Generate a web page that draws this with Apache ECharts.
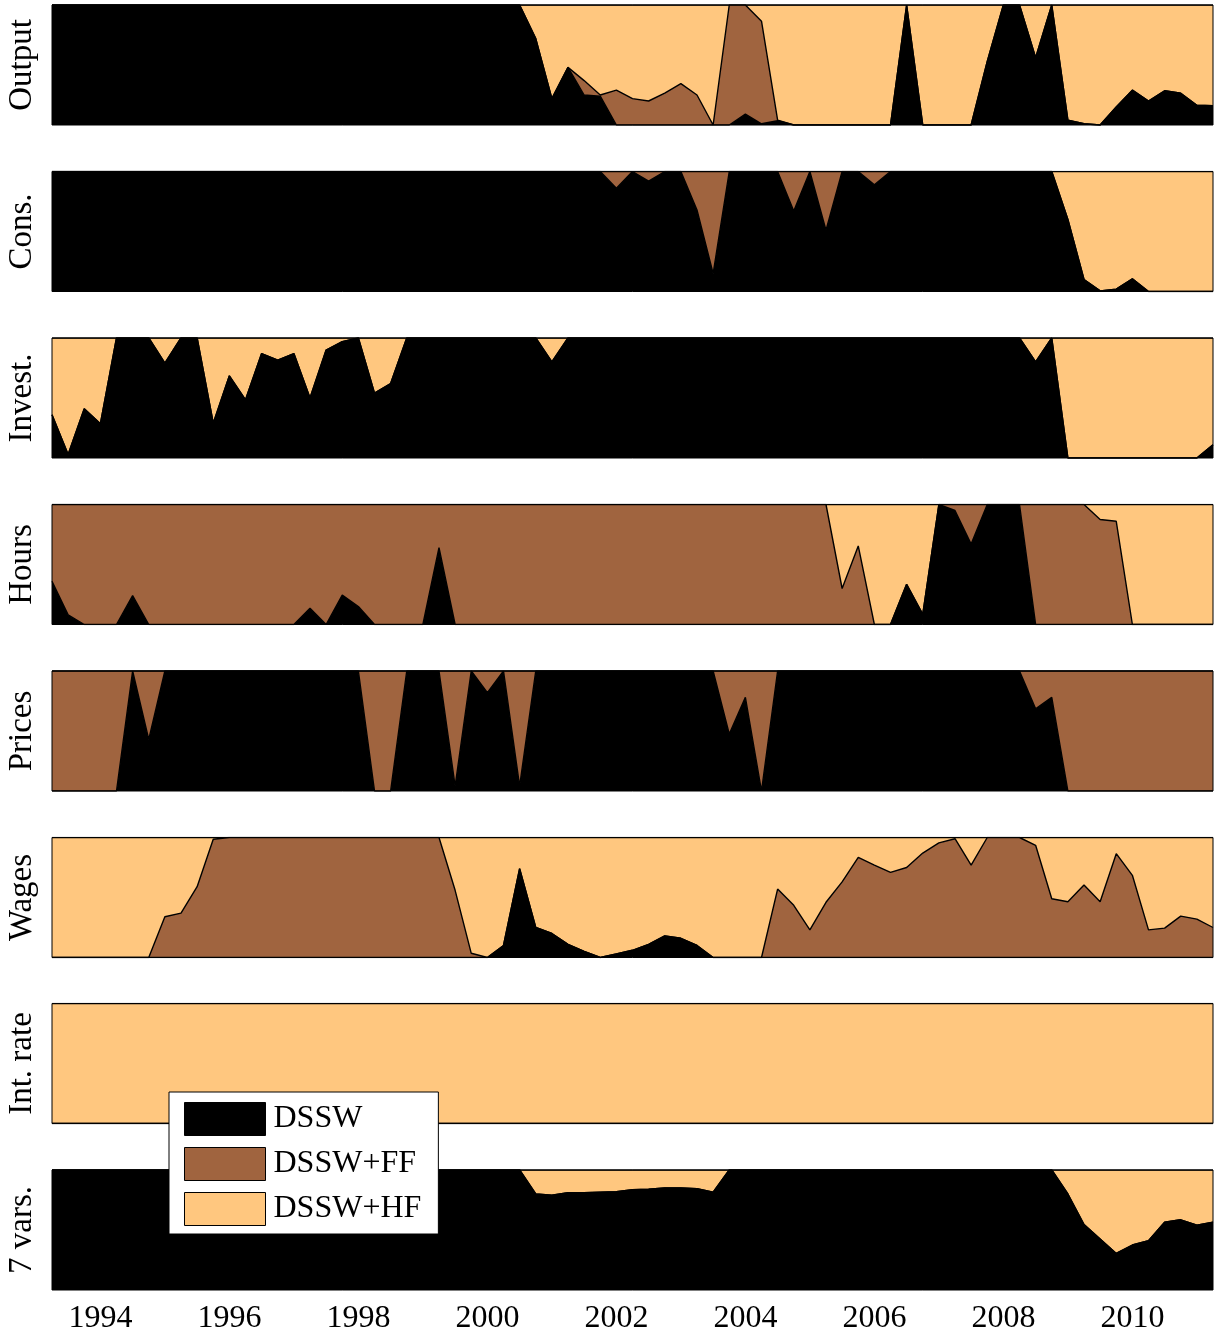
<!DOCTYPE html>
<html><head><meta charset="utf-8">
<script src="https://cdn.jsdelivr.net/npm/echarts@6/dist/echarts.min.js"></script>
<style>html,body{margin:0;padding:0;background:#fff}#c{width:1214px;height:1333px}</style>
</head><body><div id="c"></div>
<script>
// ---- labels ----
const panelNames = ['Output', 'Cons.', 'Invest.', 'Hours', 'Prices', 'Wages', 'Int. rate', '7 vars.'];
const modelNames = ['DSSW', 'DSSW+FF', 'DSSW+HF'];
const modelColors = ['#000000', '#A0643F', '#FFC77F'];
const tickYears = ['1994', '1996', '1998', '2000', '2002', '2004', '2006', '2008', '2010'];
// quarterly categories 1993Q2 .. 2011Q2
const quarters = [];
for (let y = 1993; y <= 2011; y++) for (let q = 1; q <= 4; q++) {
  if ((y === 1993 && q === 1) || (y === 2011 && q > 2)) continue;
  quarters.push(y + 'Q' + q);
}

// ---- model weights (rows: 1993 Q2-Q4, then one year per row, 2011 Q1-Q2) ----
const allZero = [0,0,0,
 0,0,0,0, 0,0,0,0, 0,0,0,0, 0,0,0,0, 0,0,0,0, 0,0,0,0, 0,0,0,0, 0,0,0,0, 0,0,0,0,
 0,0,0,0, 0,0,0,0, 0,0,0,0, 0,0,0,0, 0,0,0,0, 0,0,0,0, 0,0,0,0, 0,0,0,0,
 0,0];
const allOne = [1,1,1,
 1,1,1,1, 1,1,1,1, 1,1,1,1, 1,1,1,1, 1,1,1,1, 1,1,1,1, 1,1,1,1, 1,1,1,1, 1,1,1,1,
 1,1,1,1, 1,1,1,1, 1,1,1,1, 1,1,1,1, 1,1,1,1, 1,1,1,1, 1,1,1,1, 1,1,1,1,
 1,1];

const outputDSSW = [1,1,1,
 1,1,1,1, 1,1,1,1, 1,1,1,1, 1,1,1,1, 1,1,1,1, 1,1,1,1,
 1,1,1,0.72, 0.22,0.48,0.25,0.24, 0,0,0,0, 0,0,0,0, 0.09,0.01,0.035,0,
 0,0,0,0, 0,0,1,0, 0,0,0,0.53, 1,1,0.56,1, 0.04,0.01,0,0.15, 0.29,0.2,0.285,0.265,
 0.165,0.16];
const outputFF = [0,0,0,
 0,0,0,0, 0,0,0,0, 0,0,0,0, 0,0,0,0, 0,0,0,0, 0,0,0,0,
 0,0,0,0, 0,0,0.12,0.01, 0.29,0.22,0.2,0.265, 0.345,0.25,0,1, 0.91,0.855,0.005,0,
 0,0,0,0, 0,0,0,0, 0,0,0,0, 0,0,0,0, 0,0,0,0, 0,0,0,0,
 0,0];
const outputHF = [0,0,0,
 0,0,0,0, 0,0,0,0, 0,0,0,0, 0,0,0,0, 0,0,0,0, 0,0,0,0,
 0,0,0,0.28, 0.78,0.52,0.63,0.75, 0.71,0.78,0.8,0.735, 0.655,0.75,1,0, 0,0.135,0.96,1,
 1,1,1,1, 1,1,0,1, 1,1,1,0.47, 0,0,0.44,0, 0.96,0.99,1,0.85, 0.71,0.8,0.715,0.735,
 0.835,0.84];

const consDSSW = [1,1,1,
 1,1,1,1, 1,1,1,1, 1,1,1,1, 1,1,1,1, 1,1,1,1, 1,1,1,1,
 1,1,1,1, 1,1,1,1, 0.86,1,0.92,1, 1,0.68,0.15,1, 1,1,1,0.67,
 1,0.51,1,1, 0.89,1,1,1, 1,1,1,1, 1,1,1,1, 0.6,0.1,0.005,0.02, 0.105,0,0,0,
 0,0];
const consFF = [0,0,0,
 0,0,0,0, 0,0,0,0, 0,0,0,0, 0,0,0,0, 0,0,0,0, 0,0,0,0,
 0,0,0,0, 0,0,0,0, 0.14,0,0.08,0, 0,0.32,0.85,0, 0,0,0,0.33,
 0,0.49,0,0, 0.11,0,0,0, 0,0,0,0, 0,0,0,0, 0,0,0,0, 0,0,0,0,
 0,0];
const consHF = [0,0,0,
 0,0,0,0, 0,0,0,0, 0,0,0,0, 0,0,0,0, 0,0,0,0, 0,0,0,0,
 0,0,0,0, 0,0,0,0, 0,0,0,0, 0,0,0,0, 0,0,0,0,
 0,0,0,0, 0,0,0,0, 0,0,0,0, 0,0,0,0, 0.4,0.9,0.995,0.98, 0.895,1,1,1,
 1,1];

const investDSSW = [0.36,0.03,0.41,
 0.285,1,1,1, 0.79,1,1,0.29, 0.685,0.485,0.87,0.815, 0.87,0.5,0.9,0.97, 1,0.54,0.62,1, 1,1,1,1,
 1,1,1,1, 0.8,1,1,1, 1,1,1,1, 1,1,1,1, 1,1,1,1,
 1,1,1,1, 1,1,1,1, 1,1,1,1, 1,1,0.8,1, 0,0,0,0, 0,0,0,0,
 0,0.11];
const investHF = [0.64,0.97,0.59,
 0.715,0,0,0, 0.21,0,0,0.71, 0.315,0.515,0.13,0.185, 0.13,0.5,0.1,0.03, 0,0.46,0.38,0, 0,0,0,0,
 0,0,0,0, 0.2,0,0,0, 0,0,0,0, 0,0,0,0, 0,0,0,0,
 0,0,0,0, 0,0,0,0, 0,0,0,0, 0,0,0.2,0, 1,1,1,1, 1,1,1,1,
 1,0.89];

const hoursDSSW = [0.36,0.08,0,
 0,0,0.24,0, 0,0,0,0, 0,0,0,0, 0,0.135,0,0.245, 0.15,0,0,0, 0,0.64,0,0,
 0,0,0,0, 0,0,0,0, 0,0,0,0, 0,0,0,0, 0,0,0,0,
 0,0,0,0, 0,0,0.335,0.085, 1,0.95,0.67,1, 1,1,0,0, 0,0,0,0, 0,0,0,0,
 0,0];
const hoursFF = [0.64,0.92,1,
 1,1,0.76,1, 1,1,1,1, 1,1,1,1, 1,0.865,1,0.755, 0.85,1,1,1, 1,0.36,1,1,
 1,1,1,1, 1,1,1,1, 1,1,1,1, 1,1,1,1, 1,1,1,1,
 1,1,0.3,0.655, 0,0,0,0, 0,0.05,0.33,0, 0,0,1,1, 1,1,0.875,0.86, 0,0,0,0,
 0,0];
const hoursHF = [0,0,0,
 0,0,0,0, 0,0,0,0, 0,0,0,0, 0,0,0,0, 0,0,0,0, 0,0,0,0,
 0,0,0,0, 0,0,0,0, 0,0,0,0, 0,0,0,0, 0,0,0,0,
 0,0,0.7,0.345, 1,1,0.665,0.915, 0,0,0,0, 0,0,0,0, 0,0,0.125,0.14, 1,1,1,1,
 1,1];

const pricesDSSW = [0,0,0,
 0,0,1,0.43, 1,1,1,1, 1,1,1,1, 1,1,1,1, 1,0,0,1, 1,1,0.04,1,
 0.82,1,0.04,1, 1,1,1,1, 1,1,1,1, 1,1,1,0.475, 0.78,0,1,1,
 1,1,1,1, 1,1,1,1, 1,1,1,1, 1,1,0.685,0.78, 0,0,0,0, 0,0,0,0,
 0,0];
const pricesFF = [1,1,1,
 1,1,0,0.57, 0,0,0,0, 0,0,0,0, 0,0,0,0, 0,1,1,0, 0,0,0.96,0,
 0.18,0,0.96,0, 0,0,0,0, 0,0,0,0, 0,0,0,0.525, 0.22,1,0,0,
 0,0,0,0, 0,0,0,0, 0,0,0,0, 0,0,0.315,0.22, 1,1,1,1, 1,1,1,1,
 1,1];

const wagesDSSW = [0,0,0,
 0,0,0,0, 0,0,0,0, 0,0,0,0, 0,0,0,0, 0,0,0,0, 0,0,0,0,
 0,0.1,0.74,0.25, 0.2,0.11,0.05,0, 0.03,0.06,0.11,0.18, 0.16,0.1,0,0, 0,0,0,0,
 0,0,0,0, 0,0,0,0, 0,0,0,0, 0,0,0,0, 0,0,0,0, 0,0,0,0,
 0,0];
const wagesFF = [0,0,0,
 0,0,0,0, 0.34,0.37,0.59,0.985, 1,1,1,1, 1,1,1,1, 1,1,1,1, 1,1,0.56,0.035,
 0,0,0,0, 0,0,0,0, 0,0,0,0, 0,0,0,0, 0,0,0.57,0.435,
 0.23,0.46,0.63,0.835, 0.77,0.71,0.75,0.87, 0.955,0.99,0.77,1, 1,1,0.935,0.49, 0.465,0.605,0.465,0.865, 0.685,0.23,0.245,0.345,
 0.32,0.25];
const wagesHF = [1,1,1,
 1,1,1,1, 0.66,0.63,0.41,0.015, 0,0,0,0, 0,0,0,0, 0,0,0,0, 0,0,0.44,0.965,
 1,0.9,0.26,0.75, 0.8,0.89,0.95,1, 0.97,0.94,0.89,0.82, 0.84,0.9,1,1, 1,1,0.43,0.565,
 0.77,0.54,0.37,0.165, 0.23,0.29,0.25,0.13, 0.045,0.01,0.23,0, 0,0,0.065,0.51, 0.535,0.395,0.535,0.135, 0.315,0.77,0.755,0.655,
 0.68,0.75];

const sevenDSSW = [1,1,1,
 1,1,1,1, 1,1,1,1, 1,1,1,1, 1,1,1,1, 1,1,1,1, 1,1,1,1,
 1,1,1,0.8, 0.79,0.81,0.81,0.815, 0.82,0.835,0.84,0.85, 0.85,0.845,0.815,1, 1,1,1,1,
 1,1,1,1, 1,1,1,1, 1,1,1,1, 1,1,1,1, 0.8,0.545,0.425,0.305, 0.375,0.41,0.565,0.585,
 0.54,0.565];
const sevenHF = [0,0,0,
 0,0,0,0, 0,0,0,0, 0,0,0,0, 0,0,0,0, 0,0,0,0, 0,0,0,0,
 0,0,0,0.2, 0.21,0.19,0.19,0.185, 0.18,0.165,0.16,0.15, 0.15,0.155,0.185,0, 0,0,0,0,
 0,0,0,0, 0,0,0,0, 0,0,0,0, 0,0,0,0, 0.2,0.455,0.575,0.695, 0.625,0.59,0.435,0.415,
 0.46,0.435];

const panelData = [
  [outputDSSW, outputFF, outputHF],
  [consDSSW, consFF, consHF],
  [investDSSW, allZero, investHF],
  [hoursDSSW, hoursFF, hoursHF],
  [pricesDSSW, pricesFF, allZero],
  [wagesDSSW, wagesFF, wagesHF],
  [allZero, allZero, allOne],
  [sevenDSSW, allZero, sevenHF]
];

// ---- layout ----
const panelTops = [5, 171.5, 338, 504.5, 671, 837.5, 1003.5, 1170];
const panelHeight = 120;
const FONT = "'Liberation Serif', 'DejaVu Serif', serif";

const grids = [], xAxes = [], yAxes = [], series = [];
panelNames.forEach((name, k) => {
  grids.push({ left: 52, width: 1161, top: panelTops[k], height: panelHeight, show: true,
    outerBoundsMode: 'none', containLabel: false,
    borderColor: '#000', borderWidth: 1, backgroundColor: 'transparent', z: 10 });
  const last = k === panelNames.length - 1;
  xAxes.push({ type: 'category', gridIndex: k, data: quarters, boundaryGap: false,
    axisLine: { show: false }, axisTick: { show: false }, splitLine: { show: false },
    axisLabel: { show: last, interval: (i, v) => tickYears.includes(v.slice(0, 4)) && v.endsWith('Q1'),
      formatter: v => v.slice(0, 4), fontFamily: FONT, fontSize: 32, color: '#000', margin: 13 } });
  yAxes.push({ type: 'value', gridIndex: k, min: 0, max: 1,
    axisLine: { show: false }, axisTick: { show: false }, splitLine: { show: false }, axisLabel: { show: false },
    name: name, nameLocation: 'middle', nameGap: 13,
    nameTextStyle: { fontFamily: FONT, fontSize: 33, color: '#000' } });
  panelData[k].forEach((arr, m) => {
    series.push({ type: 'line', name: modelNames[m], xAxisIndex: k, yAxisIndex: k, stack: 'p' + k,
      data: arr, symbol: 'none', z: 4 - m, silent: true,
      itemStyle: { color: modelColors[m] },
      lineStyle: { color: '#000', width: 1.4 },
      areaStyle: { color: modelColors[m], opacity: 1 } });
  });
});

const chart = echarts.init(document.getElementById('c'), null, { renderer: 'canvas' });
chart.setOption({
  animation: false,
  backgroundColor: '#fff',
  grid: grids, xAxis: xAxes, yAxis: yAxes, series: series,
  legend: {
    data: modelNames, orient: 'vertical', left: 169, top: 1092,
    itemWidth: 81, itemHeight: 33, itemGap: 11, icon: 'rect',
    padding: [10, 17, 8, 15], backgroundColor: '#fff', borderColor: '#000', borderWidth: 1,
    itemStyle: { borderColor: '#000', borderWidth: 1 },
    textStyle: { fontFamily: FONT, fontSize: 32, color: '#000', padding: [0, 0, 0, 3] },
    z: 20
  }
});
</script></body></html>
